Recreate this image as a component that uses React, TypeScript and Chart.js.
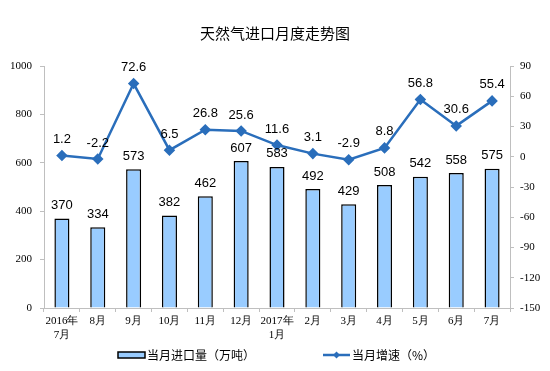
import React, { useEffect, useRef } from "react";
import { Chart, registerables } from "chart.js";

Chart.register(...registerables);

const categories: (string | string[])[] = [
  ["2016年", "7月"], "8月", "9月", "10月", "11月", "12月", ["2017年", "1月"],
  "2月", "3月", "4月", "5月", "6月", "7月",
];
const importVolume = [370, 334, 573, 382, 462, 607, 583, 492, 429, 508, 542, 558, 575];
const growthRate = [1.2, -2.2, 72.6, 6.5, 26.8, 25.6, 11.6, 3.1, -2.9, 8.8, 56.8, 30.6, 55.4];
const titleText = "天然气进口月度走势图";
const barLabel = "当月进口量（万吨）";
const lineLabel = "当月增速（%）";

const BAR_COLOR = "#99CCFF";
const LINE_COLOR = "#2A6EBB";
const SANS = "'Liberation Sans', Arial, sans-serif";
const SERIF = "'Liberation Serif', 'Times New Roman', serif";
const CJK = "'Noto Sans CJK SC', sans-serif";

const labelsPlugin = {
  id: "valueLabels",
  afterDatasetsDraw(chart: any) {
    const ctx = chart.ctx;
    ctx.save();
    ctx.fillStyle = "#000";
    ctx.textAlign = "center";
    ctx.textBaseline = "middle";
    ctx.font = `13px ${SANS}`;
    chart.data.datasets.forEach((ds: any, i: number) => {
      const meta = chart.getDatasetMeta(i);
      meta.data.forEach((el: any, j: number) => {
        const v = ds.data[j];
        const off = ds.type === "line" ? 16 : 13;
        ctx.fillText(String(v), el.x, el.y - off);
      });
    });
    ctx.restore();
  },
};

const legendPlugin = {
  id: "customLegend",
  afterDraw(chart: any) {
    const ctx = chart.ctx;
    const y = 355;
    ctx.save();
    ctx.fillStyle = BAR_COLOR;
    ctx.strokeStyle = "#000";
    ctx.lineWidth = 1.5;
    ctx.fillRect(118, y - 3, 27, 6);
    ctx.strokeRect(118, y - 3, 27, 6);
    ctx.fillStyle = "#000";
    ctx.font = `12px ${CJK}`;
    ctx.textBaseline = "middle";
    ctx.textAlign = "left";
    ctx.fillText(barLabel, 147, y);
    ctx.strokeStyle = LINE_COLOR;
    ctx.lineWidth = 2.5;
    ctx.beginPath();
    ctx.moveTo(323, y);
    ctx.lineTo(350, y);
    ctx.stroke();
    ctx.fillStyle = LINE_COLOR;
    ctx.beginPath();
    ctx.moveTo(336.5, y - 3.5);
    ctx.lineTo(340, y);
    ctx.lineTo(336.5, y + 3.5);
    ctx.lineTo(333, y);
    ctx.closePath();
    ctx.fill();
    ctx.fillStyle = "#000";
    ctx.fillText(lineLabel, 352, y);
    ctx.restore();
  },
};

export default function App() {
  const ref = useRef<HTMLCanvasElement>(null);
  useEffect(() => {
    document.body.style.margin = "0";
    const chart = new Chart(ref.current!, {
      data: {
        labels: categories as any,
        datasets: [
          {
            type: "line",
            label: lineLabel,
            data: growthRate,
            yAxisID: "y1",
            borderColor: LINE_COLOR,
            backgroundColor: LINE_COLOR,
            borderWidth: 2.5,
            pointStyle: "rectRot",
            pointRadius: 4,
            pointBackgroundColor: LINE_COLOR,
            pointBorderColor: LINE_COLOR,
            order: 0,
          } as any,
          {
            type: "bar",
            label: barLabel,
            data: importVolume,
            yAxisID: "y",
            backgroundColor: BAR_COLOR,
            borderColor: "#000",
            borderWidth: 1.5,
            barPercentage: 0.42,
            categoryPercentage: 1,
            order: 1,
          } as any,
        ],
      },
      options: {
        responsive: false,
        animation: false,
        layout: { padding: { top: 0, bottom: 28, left: 0, right: 0 } },
        plugins: {
          legend: { display: false },
          tooltip: { enabled: false },
          title: {
            display: true,
            text: titleText,
            color: "#000",
            font: { family: CJK, size: 15, weight: "normal" as any },
            padding: { top: 24, bottom: 24 },
          },
        },
        scales: {
          x: {
            grid: { display: true, drawOnChartArea: false, drawTicks: true, tickLength: 4, color: "#BFBFBF", offset: true },
            border: { color: "#BFBFBF" },
            ticks: { color: "#000", font: { family: SERIF, size: 11, lineHeight: 1.3 }, maxRotation: 0, autoSkip: false, padding: 2 },
            afterFit: (s: any) => { s.height = 35; },
          },
          y: {
            position: "left",
            min: 0,
            max: 1000,
            grid: { display: true, drawOnChartArea: false, tickLength: 4, color: "#BFBFBF" },
            border: { color: "#BFBFBF" },
            ticks: { stepSize: 200, color: "#000", font: { family: SERIF, size: 11 }, padding: 8, callback: (v: any) => String(v) },
            afterFit: (s: any) => { s.width = 44; },
          },
          y1: {
            position: "right",
            min: -150,
            max: 90,
            grid: { display: true, drawOnChartArea: false, tickLength: 4, color: "#BFBFBF" },
            border: { color: "#BFBFBF" },
            ticks: { stepSize: 30, color: "#000", font: { family: SERIF, size: 11 }, padding: 6, callback: (v: any) => String(v) },
            afterFit: (s: any) => { s.width = 40; },
          },
        },
      },
      plugins: [labelsPlugin, legendPlugin],
    });
    return () => chart.destroy();
  }, []);
  return <canvas ref={ref} width={550} height={371} style={{ display: "block" }} />;
}
